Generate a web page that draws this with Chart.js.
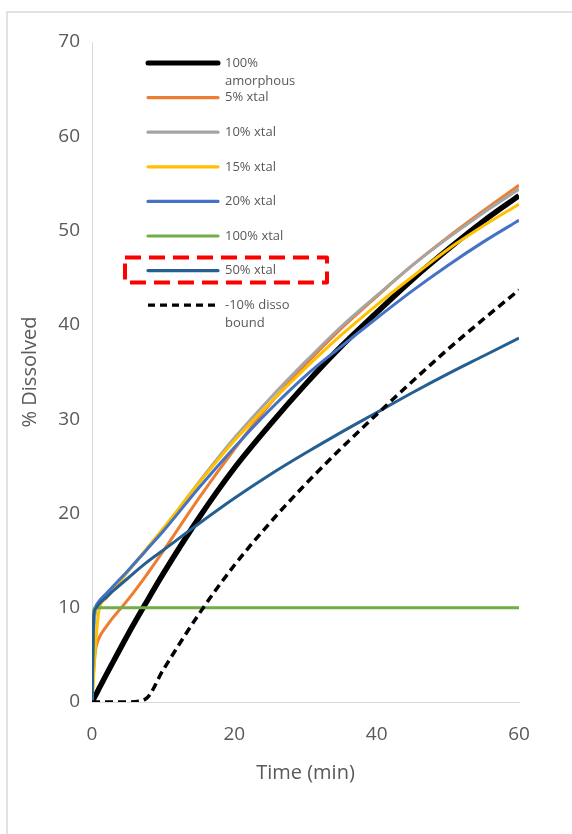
<!DOCTYPE html>
<html>
<head>
<meta charset="utf-8">
<script src="https://cdn.jsdelivr.net/npm/chart.js@4.4.1/dist/chart.umd.min.js"></script>
<style>
  html, body { margin: 0; padding: 0; background: #ffffff; overflow: hidden; }
  #wrap { position: relative; width: 572px; height: 834px; }
</style>
</head>
<body>
<div id="wrap"><canvas id="c" width="572" height="834"></canvas></div>
<script>
// ---- Data ----
const timeMin = [0, 0.25, 0.5, 1, 2, 3, 5, 7.5, 10, 15, 20, 25, 30, 35, 40, 45, 50, 55, 60];
const amorphous100 = [0, 0.36, 0.72, 1.45, 2.9, 4.3, 7.1, 10.4, 13.6, 19.5, 24.8, 29.4, 33.7, 37.7, 41.3, 44.8, 48.0, 51.0, 53.7];
const xtal5   = [0, 3.5, 5.5, 6.8, 8.0, 9.0, 10.8, 13.3, 16.0, 21.6, 26.8, 31.6, 35.8, 39.6, 43.0, 46.3, 49.3, 52.1, 54.8];
const xtal10  = [0, 7.0, 9.6, 10.4, 11.2, 12.0, 13.8, 16.0, 18.3, 23.3, 28.0, 32.2, 36.1, 39.8, 43.1, 46.3, 49.2, 51.9, 54.4];
const xtal15  = [0, 3.0, 6.0, 9.8, 11.0, 11.9, 13.8, 16.1, 18.4, 23.2, 27.7, 31.7, 35.4, 38.9, 42.1, 45.1, 48.0, 50.5, 52.8];
const xtal20  = [0, 9.0, 10.1, 10.7, 11.5, 12.3, 13.9, 16.0, 18.1, 22.7, 27.0, 31.0, 34.6, 37.7, 40.7, 43.6, 46.3, 48.8, 51.1];
const xtal100 = [0, 9.8, 10, 10, 10, 10, 10, 10, 10, 10, 10, 10, 10, 10, 10, 10, 10, 10, 10];
const xtal50  = [0, 9.2, 9.9, 10.4, 11.1, 11.8, 13.1, 14.7, 16.1, 18.9, 21.6, 24.1, 26.4, 28.6, 30.7, 32.8, 34.8, 36.7, 38.6];
const dissoBound = [0, 0, 0, 0, 0, 0, 0, 0.3, 3.4, 9.3, 14.5, 19.0, 23.1, 26.9, 30.5, 34.0, 37.4, 40.6, 43.7];

const seriesNames = [["100%", "amorphous"], ["5% xtal"], ["10% xtal"], ["15% xtal"], ["20% xtal"], ["100% xtal"], ["50% xtal"], ["-10% disso", "bound"]];
const seriesValues = [amorphous100, xtal5, xtal10, xtal15, xtal20, xtal100, xtal50, dissoBound];
const seriesColors = ["#000000", "#ED7D31", "#A5A5A5", "#FFC000", "#4472C4", "#70AD47", "#255E91", "#000000"];
const seriesWidths = [5.5, 3, 3, 3, 3, 3, 3, 3.5];
const yTicks = [0, 10, 20, 30, 40, 50, 60, 70];
const xTicks = [0, 20, 40, 60];
const highlightedSeries = 6;

const FONT = "'Open Sans', 'Liberation Sans', sans-serif";
const TEXT = "#595959";

function toPoints(vals) { return timeMin.map((t, i) => ({ x: t, y: vals[i] })); }

const datasets = seriesValues.map((vals, i) => ({
  label: seriesNames[i].join(" "),
  data: toPoints(vals),
  borderColor: seriesColors[i],
  backgroundColor: seriesColors[i],
  borderWidth: seriesWidths[i],
  borderDash: i === 7 ? [8, 5] : [],
  pointRadius: 0,
  cubicInterpolationMode: 'monotone',
  fill: false,
  order: 10 - i
}));

// Frame + custom legend + red dashed highlight box
const decorations = {
  id: 'decorations',
  beforeDraw(chart) {
    const ctx = chart.ctx;
    ctx.save();
    ctx.fillStyle = '#ffffff';
    ctx.fillRect(0, 0, chart.width, chart.height);
    ctx.strokeStyle = '#D9D9D9';
    ctx.lineWidth = 1.5;
    ctx.strokeRect(7, 12, chart.width + 20, chart.height + 20);
    ctx.restore();
  },
  afterDraw(chart) {
    const ctx = chart.ctx;
    const a = chart.chartArea;
    const lx0 = a.left + 56, lx1 = a.left + 126, tx = a.left + 133;
    const y0 = a.top + 21, step = 34.6;
    ctx.save();
    ctx.font = "13px " + FONT;
    ctx.textBaseline = 'middle';
    ctx.fillStyle = TEXT;
    seriesNames.forEach((lines, i) => {
      const y = y0 + i * step;
      ctx.beginPath();
      ctx.strokeStyle = seriesColors[i];
      ctx.lineWidth = i === 0 ? 5 : 3.2;
      ctx.lineCap = 'round';
      ctx.setLineDash(i === 7 ? [7, 5] : []);
      if (i === 7) ctx.lineCap = 'butt';
      ctx.moveTo(lx0, y);
      ctx.lineTo(lx1, y);
      ctx.stroke();
      ctx.setLineDash([]);
      lines.forEach((s, k) => ctx.fillText(s, tx, y + k * 18.5));
      if (i === highlightedSeries) {
        ctx.beginPath();
        ctx.strokeStyle = '#FF0000';
        ctx.lineWidth = 4;
        ctx.lineCap = 'butt';
        ctx.lineJoin = 'round';
        ctx.setLineDash([16, 8]);
        ctx.rect(a.left + 33, y - 13, 202, 25);
        ctx.stroke();
        ctx.setLineDash([]);
      }
    });
    ctx.restore();
  }
};

new Chart(document.getElementById('c'), {
  type: 'line',
  data: { datasets },
  options: {
    responsive: false,
    animation: false,
    events: [],
    layout: { padding: { left: 0, right: 53, top: 42, bottom: 0 } },
    plugins: { legend: { display: false }, tooltip: { enabled: false } },
    scales: {
      x: {
        type: 'linear',
        min: 0, max: 60,
        afterBuildTicks: s => { s.ticks = xTicks.map(v => ({ value: v })); },
        afterFit: s => { s.height = 132; },
        grid: { display: false, drawTicks: false },
        border: { display: true, color: '#D9D9D9', width: 1 },
        ticks: { color: TEXT, font: { family: FONT, size: 19 }, padding: 21, maxRotation: 0 },
        title: { display: true, text: 'Time (min)', color: TEXT, font: { family: FONT, size: 20 }, padding: { top: 0, bottom: 49 } }
      },
      y: {
        type: 'linear',
        min: 0, max: 70,
        afterBuildTicks: s => { s.ticks = yTicks.map(v => ({ value: v })); },
        afterFit: s => { s.width = 92; },
        grid: { display: false, drawTicks: false },
        border: { display: true, color: '#D9D9D9', width: 1 },
        ticks: { color: TEXT, font: { family: FONT, size: 19 }, padding: 12 },
        title: { display: true, text: '% Dissolved', color: TEXT, font: { family: FONT, size: 20 }, padding: { top: 18, bottom: 0 } }
      }
    }
  },
  plugins: [decorations]
});
</script>
</body>
</html>
